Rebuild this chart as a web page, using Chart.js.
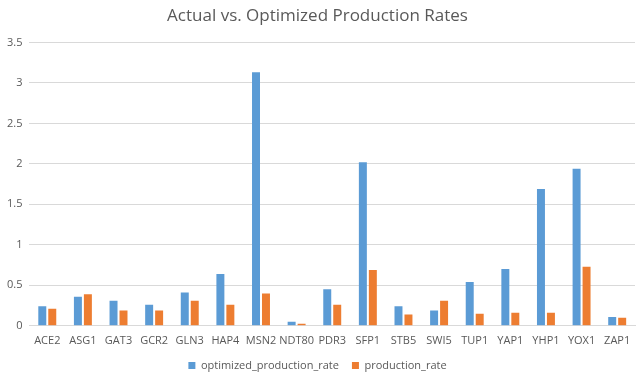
<!DOCTYPE html>
<html>
<head>
<meta charset="utf-8">
<script src="https://cdn.jsdelivr.net/npm/chart.js@4"></script>
<style>
  html, body { margin: 0; padding: 0; background: #fff; }
  #wrap { width: 644px; height: 381px; position: relative; }
</style>
</head>
<body>
<div id="wrap"><canvas id="c" width="644" height="381"></canvas></div>
<script>
const categories = ["ACE2","ASG1","GAT3","GCR2","GLN3","HAP4","MSN2","NDT80","PDR3","SFP1","STB5","SWI5","TUP1","YAP1","YHP1","YOX1","ZAP1"];
const optimizedProductionRate = [0.24,0.36,0.31,0.26,0.41,0.64,3.13,0.05,0.45,2.02,0.24,0.19,0.54,0.70,1.69,1.94,0.11];
const productionRate = [0.21,0.39,0.19,0.19,0.31,0.26,0.40,0.025,0.26,0.69,0.14,0.31,0.15,0.16,0.16,0.73,0.10];
const yTicks = [0,0.5,1,1.5,2,2.5,3,3.5];

const textColor = '#595959';
const fontFamily = "'Open Sans', 'Noto Sans', sans-serif";

new Chart(document.getElementById('c'), {
  type: 'bar',
  data: {
    labels: categories,
    datasets: [
      { label: 'optimized_production_rate', data: optimizedProductionRate, backgroundColor: '#5B9BD5', categoryPercentage: 0.56, barPercentage: 0.8 },
      { label: 'production_rate', data: productionRate, backgroundColor: '#ED7D31', categoryPercentage: 0.56, barPercentage: 0.8 }
    ]
  },
  options: {
    responsive: false,
    animation: false,
    devicePixelRatio: 1,
    layout: { padding: { left: 0, right: 9, top: 0, bottom: 0 } },
    plugins: {
      title: {
        display: true,
        text: 'Actual vs. Optimized Production Rates',
        color: textColor,
        font: { family: fontFamily, size: 17, weight: 'normal' },
        padding: { top: 6, bottom: 16 }
      },
      legend: {
        position: 'bottom',
        padding: 3,
        labels: {
          color: textColor,
          font: { family: fontFamily, size: 11 },
          boxWidth: 7, boxHeight: 7,
          padding: 13
        }
      },
      tooltip: { enabled: false }
    },
    scales: {
      x: {
        grid: { display: false },
        border: { display: true, color: '#d9d9d9' },
        ticks: { color: textColor, font: { family: fontFamily, size: 11 }, maxRotation: 0, autoSkip: false, padding: 0 }
      },
      y: {
        min: 0, max: 3.5,
        afterBuildTicks: (axis) => { axis.ticks = yTicks.map(v => ({ value: v })); },
        grid: { color: '#d9d9d9', drawTicks: false },
        border: { display: false },
        ticks: { color: textColor, font: { family: fontFamily, size: 11 }, padding: 7, callback: (v) => String(v) }
      }
    }
  }
});
</script>
</body>
</html>
